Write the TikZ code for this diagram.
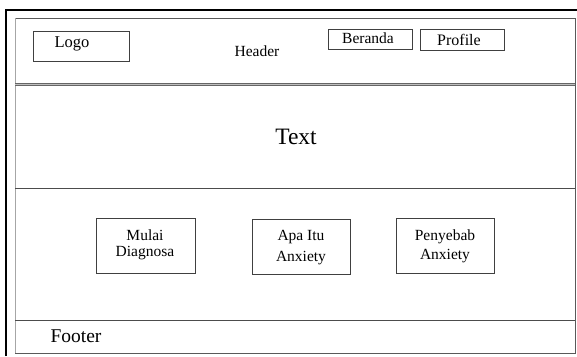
\documentclass[tikz,border=0pt]{standalone}
\usepackage{fontspec}
\setmainfont{Liberation Serif}
\begin{document}
\begin{tikzpicture}[x=1pt,y=-1pt,
  frame/.style={draw=black!70,line width=0.9pt},
  btn/.style={draw=black!75,line width=0.8pt,fill=white,inner sep=0pt,align=center},
  lbl/.style={inner sep=0pt}]
\useasboundingbox (0,0) rectangle (577,356);
% outer thick frame
\draw[line width=2.6pt,black] (6,356) -- (6,10) -- (577,10);
% inner page
\draw[frame,draw=black!65] (15,18) rectangle (575,353);
\draw[line width=1.3pt,black!35] (15.5,18) -- (15.5,353);
% header separator (double)
\draw[draw=black!60,line width=0.7pt,double=black!25,double distance=1.6pt] (15,84.5) -- (575,84.5);
% other separators
\draw[frame] (15,188) -- (575,188);
\draw[frame] (15,320) -- (575,320);
% header
\node[btn,minimum width=96pt,minimum height=30pt,anchor=north west] (logo) at (33,31) {};
\node[lbl,font=\fontsize{16.5}{18}\selectfont] (logot) at (72,44) {Logo};
\node[lbl,font=\fontsize{15.5}{18}\selectfont] (header) at (257,51) {Header};
\node[btn,minimum width=84pt,minimum height=20pt,anchor=north west] (beranda) at (328,29) {};
\node[lbl,font=\fontsize{15.5}{18}\selectfont] (berandat) at (368,38) {Beranda};
\node[btn,minimum width=84pt,minimum height=21pt,anchor=north west] (profile) at (420,29) {};
\node[lbl,font=\fontsize{16}{18}\selectfont] (profilet) at (459,40) {Profile};
% text
\node[lbl,font=\fontsize{23.5}{26}\selectfont] (text) at (296,137) {Text};
% buttons
\node[btn,minimum width=99pt,minimum height=55pt,anchor=north west] (mulai) at (96,218) {};
\node[lbl,align=center,font=\fontsize{15.5}{16}\selectfont] (mulait) at (145,245) {Mulai\\Diagnosa};
\node[btn,minimum width=98pt,minimum height=55pt,anchor=north west] (apa) at (252,219) {};
\node[lbl,align=center,font=\fontsize{15.5}{21}\selectfont] (apat) at (301,248) {Apa Itu\\Anxiety};
\node[btn,minimum width=98pt,minimum height=55pt,anchor=north west] (penyebab) at (396,218) {};
\node[lbl,align=center,font=\fontsize{15.5}{19}\selectfont] (penyebabt) at (445,246) {Penyebab\\Anxiety};
% footer
\node[lbl,font=\fontsize{19.5}{22}\selectfont] (footer) at (76,336) {Footer};
\end{tikzpicture}
\end{document}
